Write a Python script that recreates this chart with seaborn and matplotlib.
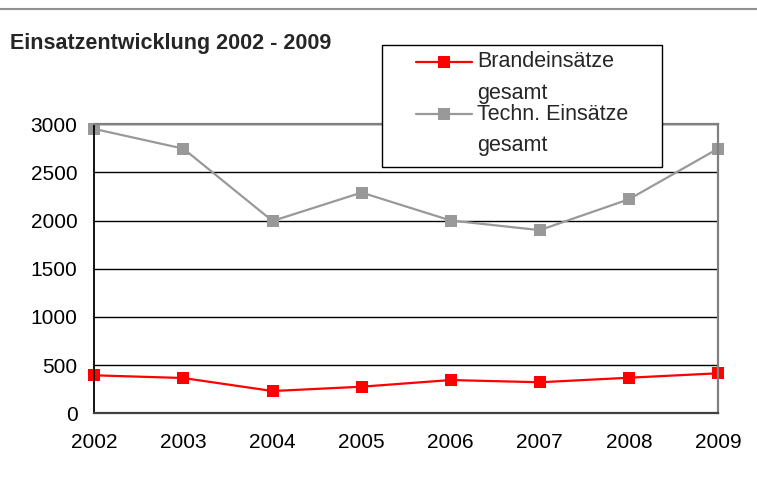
import matplotlib
matplotlib.use('Agg')
import matplotlib.pyplot as plt
from matplotlib.lines import Line2D
from matplotlib.patches import Rectangle
import seaborn as sns
import pandas as pd


years = [2002, 2003, 2004, 2005, 2006, 2007, 2008, 2009]
brand = [394, 366, 231, 276, 345, 322, 369, 415]
techn = [2950, 2745, 1995, 2290, 2000, 1900, 2220, 2745]
series_names = ['Brandeinsätze gesamt', 'Techn. Einsätze gesamt']
legend_lines = [['Brandeinsätze', 'gesamt'], ['Techn. Einsätze', 'gesamt']]
series_colors = ['#ff0000', '#999999']
y_ticks = [0, 500, 1000, 1500, 2000, 2500, 3000]

sns.set_style('white')
plt.rcParams['font.family'] = ['Liberation Sans', 'DejaVu Sans']

df = pd.DataFrame({
    'Jahr': years * 2,
    'Einsaetze': brand + techn,
    'Serie': [series_names[0]] * len(years) + [series_names[1]] * len(years)
})

W, H = 757, 501
fig = plt.figure(figsize=(W / 100, H / 100), dpi=100)
ax = fig.add_axes([94.3 / W, 1 - 413.3 / H, (718 - 94.3) / W, (413.3 - 124.1) / H])

sns.lineplot(
    data=df,
    x='Jahr',
    y='Einsaetze',
    hue='Serie',
    style='Serie',
    markers=['s', 's'],
    dashes=False,
    palette=series_colors,
    markersize=8.6,
    markeredgewidth=0,
    linewidth=1.6,
    ax=ax,
    legend=False,
    clip_on=False
)

ax.set_xlim(2002, 2009)
ax.set_ylim(0, 3000)
ax.set_xticks(years)
ax.set_yticks(y_ticks)
ax.tick_params(axis='both', labelsize=15, colors='black', direction='out')
ax.tick_params(axis='x', length=5, width=1.2, pad=9, color='#404040')
ax.tick_params(axis='y', length=3.6, width=1.2, pad=8.5)
ax.set_xlabel('')
ax.set_ylabel('')

ax.yaxis.grid(True, color='black', linewidth=1)
ax.set_axisbelow(True)
ax.spines['left'].set_color('black')
ax.spines['left'].set_linewidth(1.3)
ax.spines['bottom'].set_color('#404040')
ax.spines['bottom'].set_linewidth(1.6)
for side in ['top', 'right']:
    ax.spines[side].set_color('#808080')
    ax.spines[side].set_linewidth(1.6)

# legend box, drawn by hand to get the wrapped labels like the original
fig.add_artist(Rectangle((382 / W, 1 - 167 / H), (662 - 382) / W, (167 - 45) / H,
                         facecolor='white', edgecolor='black', linewidth=1,
                         transform=fig.transFigure, zorder=5))
for i, (color, lines) in enumerate(zip(series_colors, legend_lines)):
    y0 = 62 + i * 52
    fig.add_artist(Line2D([416 / W, 472 / W], [1 - y0 / H, 1 - y0 / H], color=color,
                          linewidth=1.6, zorder=6))
    fig.add_artist(Line2D([444 / W], [1 - y0 / H], color=color, marker='s',
                          markersize=8.6, markeredgewidth=0, zorder=6))
    for j, line in enumerate(lines):
        fig.text(477 / W, 1 - (y0 + j * 31) / H, line, fontsize=15.5,
                 ha='left', va='center', zorder=7)

fig.text(10 / W, 1 - 44 / H, 'Einsatzentwicklung 2002 - 2009',
         fontsize=15.5, fontweight='bold', ha='left', va='center')

fig.add_artist(Line2D([0, 1], [1 - 8.5 / H, 1 - 8.5 / H], color='#909090', linewidth=1.5))

fig.savefig('out.png', dpi=100)
